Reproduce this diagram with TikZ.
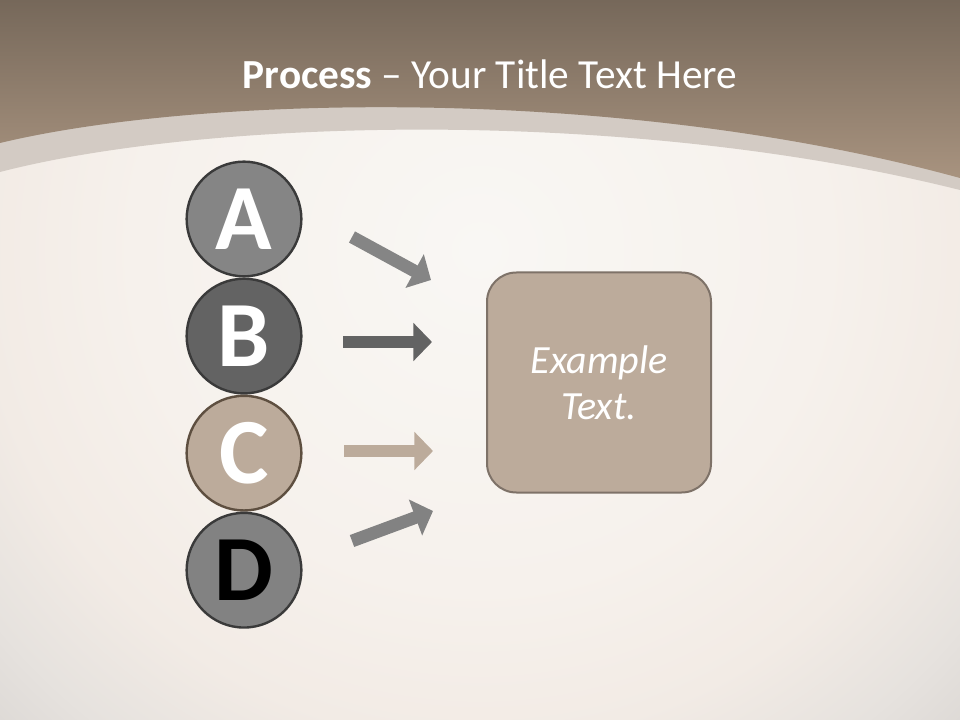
\documentclass[tikz,border=0pt]{standalone}
\usepackage{fontspec}
\setmainfont{Carlito}
\usepackage{xcolor}
\usetikzlibrary{positioning,arrows.meta}

\definecolor{hdrtop}{HTML}{76685A}
\definecolor{hdrbot}{HTML}{A8937F}
\definecolor{bandlight}{HTML}{D3CBC4}
\definecolor{bgwarm}{HTML}{F9F7F4}
\definecolor{bgtint}{HTML}{F6F1EC}
\definecolor{bglow}{HTML}{F2EBE5}
\definecolor{bgmid}{HTML}{E6E2DE}
\definecolor{bgedge}{HTML}{D3CFCC}
\definecolor{greyA}{HTML}{858585}
\definecolor{greyB}{HTML}{636363}
\definecolor{tanC}{HTML}{BCAB9B}
\definecolor{greyD}{HTML}{828282}
\definecolor{rimdark}{HTML}{3A3A3A}
\definecolor{rimtan}{HTML}{5E4F40}
\definecolor{boxrim}{HTML}{7E7268}

\pgfdeclareradialshading{slideglow}{\pgfpoint{0bp}{0bp}}{%
  color(0bp)=(bgwarm); color(18bp)=(bgtint); color(26bp)=(bglow); color(32bp)=(bgmid); color(40bp)=(bgedge); color(50bp)=(bgedge)}

\begin{document}
\begin{tikzpicture}[
    x=0.75pt, y=-0.75pt,
    letter/.style={circle, draw=rimdark, line width=1.8pt, minimum size=86pt, inner sep=0pt,
        font=\bfseries\fontsize{70}{70}\selectfont, text=white},
    blockarrow/.style={line width=9.5pt, -{Triangle[width=28pt,length=14pt]}},
    notebox/.style={rectangle, draw=boxrim, line width=1.5pt, rounded corners=22pt, fill=tanC,
        minimum width=168pt, minimum height=165pt, align=center, text=white,
        font=\itshape\fontsize{30}{34.5}\selectfont}
]
    \useasboundingbox (0,0) rectangle (960,720);
    % background and header
    \shade[shading=slideglow] (0,-220) rectangle (960,720);
    \fill[bandlight] (0,0) -- (960,0) -- (960,190) .. controls (620,105) and (200,120) .. (0,172) -- cycle;
    \shade[top color=hdrtop, bottom color=hdrbot] (0,0) -- (960,0) -- (960,178) .. controls (620,85) and (200,95) .. (0,143) -- cycle;
    \node[anchor=base, text=white, font=\fontsize{31}{36}\selectfont] (title) at (490,89)
        {\textbf{Process} – Your Title Text Here};

    % letters
    \node[letter, fill=greyA] (A) at (244,219) {A};
    \node[letter, fill=greyB, below=0pt of A] (B) {B};
    \node[letter, fill=tanC, draw=rimtan, below=0pt of B] (C) {C};
    \node[letter, fill=greyD, text=black, below=0pt of C] (D) {D};

    \node[notebox] (note) at (599,382.5) {Example\\Text.};

    % arrow ends
    \coordinate (aS) at (352,237);
    \coordinate (aE) at (431,280);
    \coordinate (bS) at (343,342);
    \coordinate (bE) at (432,342);
    \coordinate (cS) at (344,451);
    \coordinate (cE) at (433,451);
    \coordinate (dS) at (352,541);
    \coordinate (dE) at (433,511);

    \draw[blockarrow, greyA] (aS) -- (aE);
    \draw[blockarrow, greyB] (bS) -- (bE);
    \draw[blockarrow, tanC] (cS) -- (cE);
    \draw[blockarrow, greyD] (dS) -- (dE);
\end{tikzpicture}
\end{document}
